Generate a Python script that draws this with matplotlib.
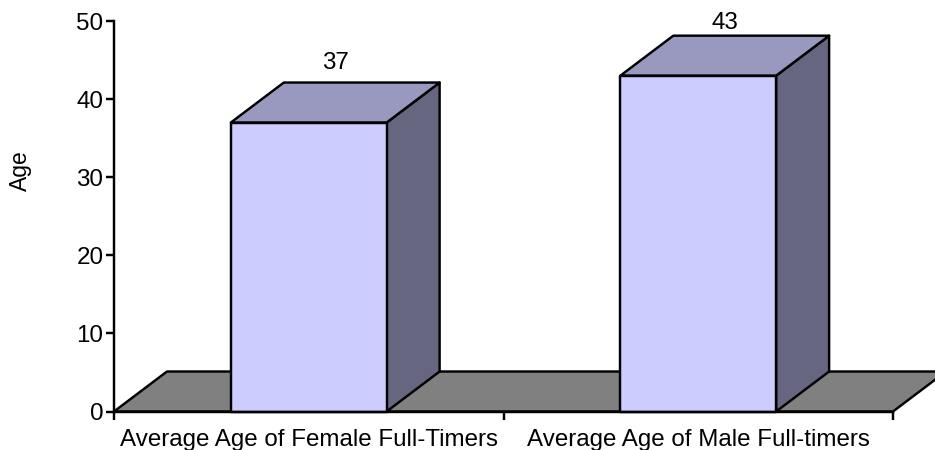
import matplotlib
matplotlib.use("Agg")
import matplotlib.pyplot as plt
from matplotlib.patches import Polygon

plt.rcParams['font.family'] = ['Liberation Sans', 'DejaVu Sans']

categories = ["Average Age of Female Full-Timers", "Average Age of Male Full-timers"]
ages = [37, 43]
y_ticks = [0, 10, 20, 30, 40, 50]

W, H = 935, 450
DX, DY = 0.136, 5.12   # depth of the 3d effect in data units
BAR_W = 0.4
EDGE = "black"
LW = 1.75
FS = 17.4
label_gaps = [2.5, 1.6]   # space above the top face, second label is squeezed at the top


def face(ax, pts, color, z):
    ax.add_patch(Polygon(pts, closed=True, facecolor=color, edgecolor=EDGE,
                         linewidth=LW, joinstyle="round", clip_on=False, zorder=z))


fig = plt.figure(figsize=(W / 100, H / 100), dpi=100)
ax = fig.add_axes([114 / W, (H - 411.5) / H, 779 / W, 390.5 / H])
ax.set_xlim(-0.5, 1.5)
ax.set_ylim(0, 50)

# floor
face(ax, [(-0.5, 0), (1.5, 0), (1.5 + DX, DY), (-0.5 + DX, DY)], "#808080", 1)

for i, age in enumerate(ages):
    x0, x1 = i - BAR_W / 2, i + BAR_W / 2
    face(ax, [(x1, 0), (x1 + DX, DY), (x1 + DX, age + DY), (x1, age)], "#666680", 2)
    face(ax, [(x0, age), (x1, age), (x1 + DX, age + DY), (x0 + DX, age + DY)], "#9999BF", 2)
    face(ax, [(x0, 0), (x1, 0), (x1, age), (x0, age)], "#CCCCFF", 3)
    ax.text(i + DX / 2, age + DY + label_gaps[i], str(age), ha="center", va="center",
            fontsize=FS, clip_on=False)

for s in ["top", "right"]:
    ax.spines[s].set_visible(False)
for s in ["left", "bottom"]:
    ax.spines[s].set_linewidth(LW)
    ax.spines[s].set_zorder(5)

ax.set_yticks(y_ticks)
ax.set_xticks([-0.5, 0.5, 1.5])
ax.set_xticklabels([])
ax.set_xticks([0, 1], minor=True)
ax.set_xticklabels(categories, minor=True)
ax.tick_params(axis="x", which="minor", length=0, pad=12.5, labelsize=FS)
ax.tick_params(axis="x", which="major", length=5.7, width=LW)
ax.tick_params(axis="y", length=5.7, width=LW, labelsize=FS, pad=2)
ax.set_ylabel("Age", fontsize=16.5, va="center")
ax.yaxis.set_label_coords((20 - 114) / 779, (411.5 - 171) / 390.5)

fig.savefig("out.png", dpi=100)
